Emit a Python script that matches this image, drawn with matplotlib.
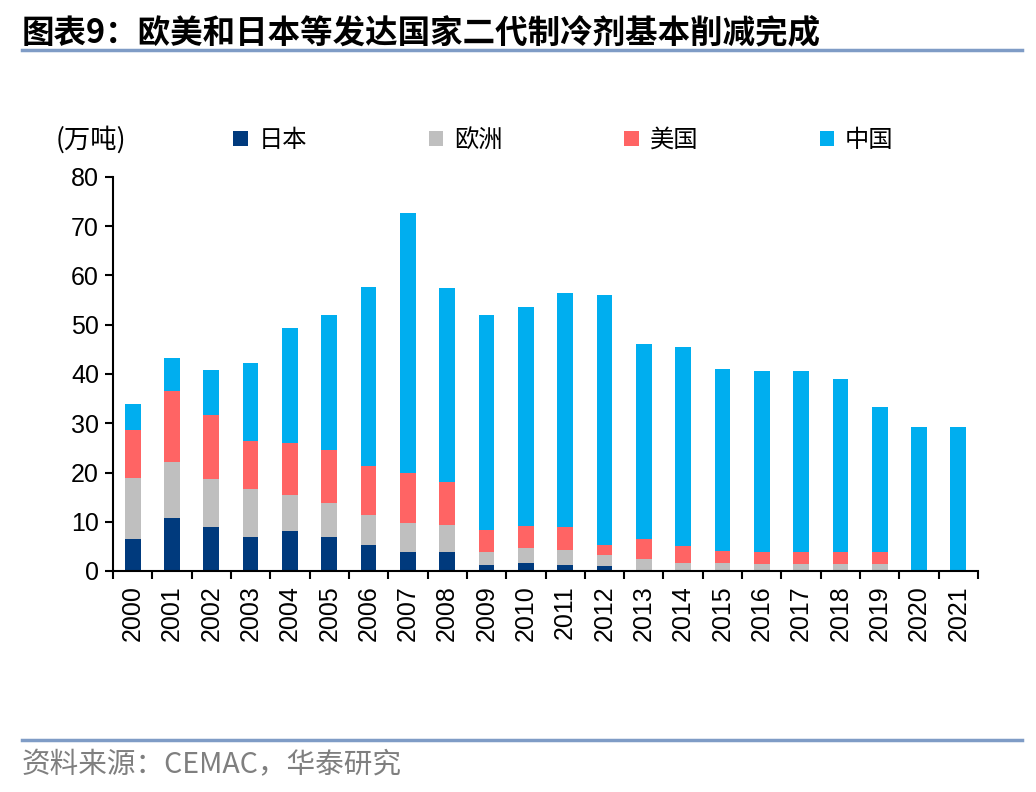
import numpy as np
import matplotlib
matplotlib.use('Agg')
import matplotlib.pyplot as plt
from matplotlib.lines import Line2D

plt.rcParams['font.family'] = ['Liberation Sans', 'Noto Sans CJK SC']
cjk = ['Noto Sans CJK SC', 'DejaVu Sans']

years = [str(y) for y in range(2000, 2022)]
japan = [6.4, 10.8, 8.9, 7.0, 8.1, 7.0, 5.3, 3.8, 3.8, 1.2, 1.6, 1.2, 1.0, 0.1, 0, 0, 0, 0, 0, 0, 0, 0]
europe = [12.4, 11.3, 9.7, 9.6, 7.3, 6.9, 6.0, 6.0, 5.6, 2.6, 3.1, 3.1, 2.2, 2.3, 1.6, 1.7, 1.5, 1.5, 1.5, 1.5, 0, 0]
usa = [9.8, 14.4, 13.1, 9.8, 10.6, 10.7, 10.1, 10.1, 8.7, 4.6, 4.4, 4.6, 2.0, 4.0, 3.5, 2.3, 2.4, 2.4, 2.4, 2.4, 0, 0]
china = [5.4, 6.8, 9.1, 15.9, 23.3, 27.4, 36.2, 52.7, 39.4, 43.5, 44.5, 47.5, 50.9, 39.6, 40.4, 37.0, 36.7, 36.7, 35.1, 29.3, 29.2, 29.2]

series = [('日本', japan, '#003A7D'), ('欧洲', europe, '#BFBFBF'),
          ('美国', usa, '#FF6464'), ('中国', china, '#00AEEF')]

fig = plt.figure(figsize=(10.36, 7.92), dpi=100)
ax = fig.add_axes([113/1036, 1-571/792, (978-113)/1036, (571-177)/792])

x = np.arange(len(years))
bottom = np.zeros(len(years))
for name, vals, col in series:
    ax.bar(x, vals, 0.4, bottom=bottom, color=col, label=name, zorder=2)
    bottom += np.array(vals)

ax.set_xlim(-0.5, len(years) - 0.5)
ax.set_ylim(0, 80)
ax.set_yticks(range(0, 81, 10))
ax.set_xticks(x)
ax.set_xticklabels(years, rotation=90)
ax.set_xticks(np.arange(-0.5, len(years)), minor=True)
ax.tick_params(axis='x', which='major', length=0, pad=10, labelsize=18)
ax.tick_params(axis='x', which='minor', length=6, width=1.5, direction='out')
ax.tick_params(axis='y', length=6, width=1.5, direction='out', labelsize=18, pad=4)
for s in ['top', 'right']:
    ax.spines[s].set_visible(False)
for s in ['left', 'bottom']:
    ax.spines[s].set_linewidth(1.5)

leg = fig.legend(loc='center left', bbox_to_anchor=(233/1036, 1-140/792), ncol=4,
                 frameon=False, prop={'family': cjk, 'size': 17.5},
                 handlelength=0.6, handleheight=0.6, handletextpad=0.45,
                 columnspacing=5.0, borderpad=0, borderaxespad=0)

fig.text(56/1036, 1-140/792, '(万吨)', family=cjk, fontsize=19, va='center', ha='left')

fig.text(22/1036, 1-33/792, '图表9：欧美和日本等发达国家二代制冷剂基本削减完成',
         family=cjk, fontsize=23.4, fontweight='bold', va='center', ha='left')
fig.add_artist(Line2D([22/1036, 1022/1036], [1-50/792, 1-50/792], color='#7F9CC6', lw=2.5))
fig.add_artist(Line2D([22/1036, 1022/1036], [1-740/792, 1-740/792], color='#7F9CC6', lw=2.5))
fig.text(22/1036, 1-765/792, '资料来源：CEMAC，华泰研究', family=cjk, fontsize=20.6,
         color='#7F7F7F', va='center', ha='left')

fig.savefig('out.png', dpi=100)
